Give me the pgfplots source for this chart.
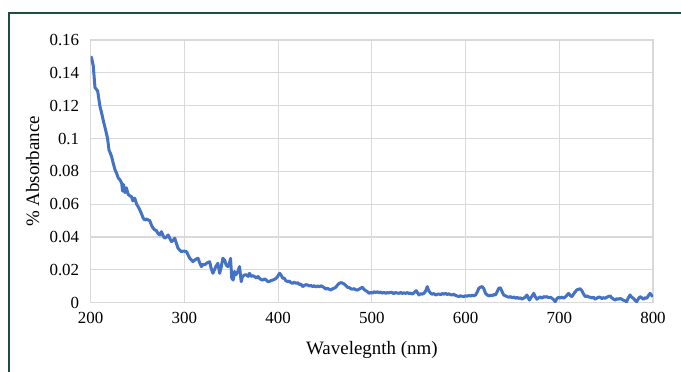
\documentclass[border=0pt]{standalone}
\usepackage{pgfplots}
\pgfplotsset{compat=1.18}
\usepackage{fontspec}
\setmainfont{Liberation Serif}
\definecolor{gridc}{RGB}{217,217,217}
\definecolor{linec}{RGB}{68,114,196}
\definecolor{framec}{RGB}{31,78,58}
\begin{document}
\begin{tikzpicture}[x=1bp,y=1bp]
\useasboundingbox (0,0) rectangle (681,371);
\draw[framec, line width=2bp] (9,-5) -- (9,358) -- (690,358);
\begin{axis}[
  at={(90.7bp,68.3bp)}, anchor=south west,
  scale only axis, width=562.3bp, height=262.7bp,
  xmin=200, xmax=800, ymin=0, ymax=0.16,
  xtick={200,300,400,500,600,700,800},
  ytick={0,0.02,0.04,0.06,0.08,0.1,0.12,0.14,0.16},
  yticklabels={0,0.02,0.04,0.06,0.08,0.1,0.12,0.14,0.16},
  /pgf/number format/assume math mode=true,
  grid=major,
  major grid style={gridc, line width=1.2bp},
  axis line style={gridc, line width=1.2bp},
  tick style={draw=none},
  ticklabel style={font=\fontsize{17}{20}\selectfont},
  yticklabel style={xshift=-8bp},
  xticklabel style={yshift=-6bp},
  xlabel={Wavelegnth (nm)},
  ylabel={\% Absorbance},
  every axis x label/.style={at={(axis description cs:0.5,-0.18)}, anchor=center, font=\fontsize{19}{22}\selectfont},
  every axis y label/.style={at={(axis description cs:-0.1031,0.5)}, rotate=90, anchor=center, font=\fontsize{19}{22}\selectfont},
]
\addplot[linec, line width=3bp, line join=round] coordinates {
(200,0.150) (201,0.149) (202.8,0.144) (204,0.135) (204.6,0.131) (206,0.130) (207.4,0.129)
(209.9,0.1195) (211.5,0.116) (213.4,0.111) (216,0.105) (218,0.100) (219.5,0.093) (221,0.091)
(222.3,0.089) (224,0.085) (225.9,0.081) (227.5,0.079) (229.4,0.076) (231,0.075) (233,0.073)
(234,0.068) (235,0.072) (236.5,0.067) (238,0.070) (240,0.066) (242,0.065) (243.6,0.0646)
(245,0.062) (247,0.0637) (249,0.060) (250.6,0.0585) (252,0.057) (254,0.0545) (256,0.0515)
(257.7,0.0504) (260,0.051) (261.3,0.0504) (263,0.050) (265,0.047) (266.6,0.0454) (268.4,0.0443)
(270,0.044) (272,0.042) (273.7,0.0413) (275.5,0.0433) (277,0.041) (279,0.0393) (281,0.040)
(282.6,0.0413) (284.5,0.039) (286.2,0.0372) (288,0.038) (289.7,0.0393) (291.5,0.036) (293.2,0.0332)
(295,0.032) (296.8,0.0311) (299,0.0315) (302.1,0.0311) (304,0.029) (305.6,0.0271) (307.5,0.026)
(309.1,0.025) (311,0.026) (312.5,0.0265) (314.5,0.0271) (316.5,0.024) (318.1,0.022) (320,0.0235)
(321.6,0.023) (323.5,0.024) (325,0.0245) (326.9,0.025) (328.5,0.021) (330.4,0.0179) (332,0.020)
(333.5,0.022) (335.7,0.024) (337.6,0.0179) (339,0.021) (341,0.027) (342.9,0.026) (344.5,0.023)
(346.4,0.022) (348,0.024) (349.2,0.027) (350.5,0.015) (352,0.0138) (353.5,0.019) (355,0.017)
(357,0.0189) (358.8,0.022) (360.6,0.0128) (362,0.016) (364.1,0.0169) (366,0.017) (368,0.016)
(369.5,0.0179) (371,0.016) (373,0.0165) (374.8,0.0159) (377,0.015) (378.5,0.016) (380.1,0.0149)
(382,0.014) (383.6,0.0138) (385.5,0.0145) (387,0.014) (389,0.0128) (391,0.013) (392.5,0.0135)
(394.3,0.0138) (396,0.0142) (397.9,0.0149) (399.5,0.016) (401.4,0.0179) (403,0.017) (404.9,0.0149)
(406.5,0.015) (408,0.0135) (410.2,0.0128) (412,0.0132) (413.5,0.0122) (415.5,0.0118) (417,0.0125)
(419,0.0118) (420.9,0.0122) (422.5,0.011) (424,0.0115) (426.2,0.0098) (428,0.0105) (429.5,0.011)
(431.5,0.0108) (433,0.0102) (435,0.0105) (436.8,0.0098) (438.5,0.0104) (440,0.0096) (442.1,0.0102)
(444,0.0097) (445.5,0.0103) (447.4,0.0098) (449,0.0092) (451,0.0082) (452.5,0.0088) (454.6,0.0082)
(456.4,0.0077) (458,0.0085) (459.9,0.0088) (461.7,0.0095) (463.4,0.0108) (465.2,0.0118) (467,0.0122)
(468.5,0.012) (470.5,0.0114) (472,0.0105) (474,0.0094) (476,0.0092) (477.5,0.0085) (479.4,0.0082)
(481,0.0086) (482.5,0.0079) (484.7,0.0077) (486.5,0.0083) (488,0.0088) (490,0.0094) (491.5,0.0082)
(493.6,0.0073) (495,0.0068) (497.1,0.0057) (499,0.0063) (500.5,0.0058) (502.4,0.0067) (504,0.0062)
(506,0.0066) (507.8,0.0061) (509.5,0.0065) (511,0.0058) (513,0.0063) (514.9,0.0057) (516.5,0.0062)
(518,0.0059) (520,0.0064) (521.9,0.0061) (523.5,0.0055) (525,0.0062) (527,0.0059) (529,0.0057)
(531,0.0063) (532.5,0.0056) (534,0.006) (536.1,0.0057) (538,0.0062) (539.5,0.0055) (541,0.0059)
(543.2,0.0053) (545,0.006) (546.2,0.0068) (547.4,0.0073) (549,0.0058) (550.3,0.0047) (552,0.0055)
(553.5,0.0052) (555.6,0.0057) (557.5,0.0072) (559.1,0.0098) (560.5,0.0075) (562.8,0.0057) (564.5,0.0052)
(566,0.0056) (568.1,0.0047) (570,0.0052) (571.6,0.0053) (573.5,0.0049) (575,0.0056) (577,0.0052)
(578.7,0.0057) (580.5,0.005) (582,0.0054) (584,0.0049) (585.7,0.0047) (587.5,0.0052) (589,0.0045)
(591,0.0041) (592.9,0.0037) (594.5,0.0042) (596.5,0.0039) (598.2,0.0037) (600,0.0043) (601.5,0.0039)
(603.5,0.0044) (605.3,0.0041) (607,0.0046) (608.5,0.0042) (610.6,0.0047) (612.5,0.0065) (614.1,0.0088)
(615.8,0.0095) (617.7,0.0098) (619.5,0.0085) (621.3,0.0057) (623,0.0048) (624.8,0.0041) (626.5,0.0046)
(628.5,0.0043) (630,0.0049) (631.9,0.0047) (633.5,0.0065) (635.4,0.0088) (637,0.0091) (638.3,0.0077)
(639.5,0.006) (640.7,0.0047) (642.5,0.0042) (644.2,0.0038) (646.1,0.0033) (648,0.0037) (649.5,0.0031)
(651.5,0.0035) (653.2,0.0027) (655,0.0032) (656.5,0.0026) (658.5,0.003) (660.2,0.0021) (662,0.0028)
(663.5,0.0033) (665.5,0.0047) (666.8,0.003) (668.1,0.0016) (670,0.0033) (671.5,0.0045) (672.7,0.0057)
(674.5,0.0035) (676.2,0.0021) (678,0.003) (679.5,0.0035) (681.5,0.0027) (683.3,0.0037) (685,0.0034)
(686.8,0.0037) (688.5,0.003) (690.4,0.0033) (692,0.0028) (694,0.0018) (695.7,0.0006) (697.5,0.0025)
(699.3,0.0033) (701,0.0029) (703,0.0034) (704.6,0.0027) (706.5,0.0035) (708,0.0045) (709.9,0.0057)
(711.5,0.0045) (713.4,0.0037) (715,0.005) (717,0.0067) (718.8,0.0078) (720.5,0.0082) (722.3,0.0085)
(724.1,0.0073) (726,0.0052) (727.7,0.0037) (729.5,0.0041) (731,0.0036) (733,0.0033) (735,0.0029)
(736.5,0.0034) (738.3,0.0021) (740,0.0028) (742,0.0034) (743.6,0.0033) (745.5,0.0025) (747,0.0031)
(748.9,0.0027) (750.5,0.0033) (752.5,0.0038) (754.3,0.0041) (756,0.003) (757.8,0.0022) (759.6,0.0016)
(761.5,0.0025) (763,0.002) (764.8,0.0026) (766.6,0.0021) (768.5,0.0015) (770,0.0012) (771.9,0.0006)
(773.5,0.0028) (775.5,0.0047) (777,0.0035) (779,0.0027) (780.8,0.0015) (782.6,0.0006) (784.5,0.0025)
(786.2,0.0037) (788,0.003) (789.7,0.0021) (791.5,0.003) (793.3,0.0027) (795,0.0042) (796.8,0.0057)
(798.5,0.0045) (800,0.0037)
};
\end{axis}
\end{tikzpicture}
\end{document}
